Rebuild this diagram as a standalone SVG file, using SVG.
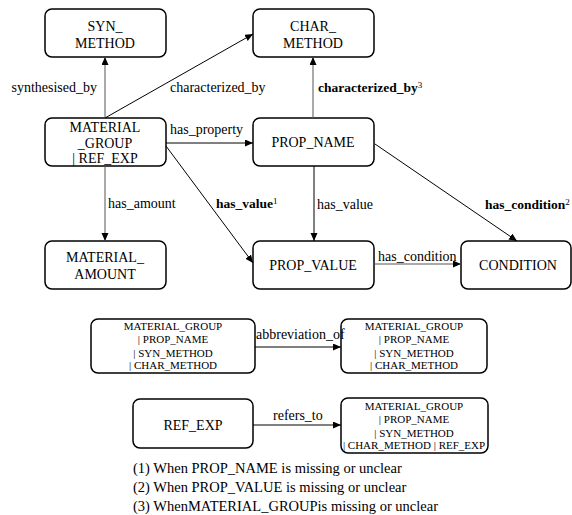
<svg xmlns="http://www.w3.org/2000/svg" width="572" height="515" viewBox="0 0 572 515" font-family="Liberation Serif, DejaVu Serif, serif">
<style>
.box{fill:#fff;stroke:#000;stroke-width:1.5}
text{font-family:'Liberation Serif','DejaVu Serif',serif;fill:#000}
.t{font-size:14px;text-anchor:middle}
.s{font-size:11px;text-anchor:middle}
.l{font-size:14px}
.b{font-weight:bold;font-size:13.5px}
.sup{font-size:9px;font-weight:normal}
.e{stroke:#000;stroke-width:1;fill:none;marker-end:url(#arr)}
.g{stroke:#555}
.fn{font-size:14.5px}
</style>
<defs>
<marker id="arr" markerWidth="9" markerHeight="8" refX="8" refY="3.5" orient="auto" markerUnits="userSpaceOnUse">
<path d="M0,0 L8,3.5 L0,7 z" fill="#000"/>
</marker>
</defs>
<rect width="572" height="515" fill="#fff"/>
<g id="syn_method">
<rect class="box" x="45" y="9" width="121" height="48" rx="7"/>
<text class="t" x="105" y="31">SYN_</text>
<text class="t" x="105" y="48">METHOD</text>
</g>
<g id="char_method">
<rect class="box" x="253" y="9" width="121" height="48" rx="7"/>
<text class="t" x="313" y="31">CHAR_</text>
<text class="t" x="313" y="48">METHOD</text>
</g>
<g id="material_group">
<rect class="box" x="45" y="118" width="121" height="48" rx="7"/>
<text class="t" x="105" y="132">MATERIAL</text>
<text class="t" x="105" y="148">_GROUP</text>
<text class="t" x="105" y="163">| REF_EXP</text>
</g>
<g id="prop_name">
<rect class="box" x="253" y="118" width="121" height="48" rx="7"/>
<text class="t" x="313" y="147">PROP_NAME</text>
</g>
<g id="material_amount">
<rect class="box" x="45" y="241" width="121" height="48" rx="7"/>
<text class="t" x="105" y="262">MATERIAL_</text>
<text class="t" x="105" y="279">AMOUNT</text>
</g>
<g id="prop_value">
<rect class="box" x="253" y="241" width="121" height="48" rx="7"/>
<text class="t" x="313" y="270">PROP_VALUE</text>
</g>
<g id="condition">
<rect class="box" x="461" y="241" width="110" height="48" rx="7"/>
<text class="t" x="518" y="270">CONDITION</text>
</g>
<g id="abbr_src">
<rect class="box" x="91" y="319" width="164" height="54" rx="7"/>
<text class="s" x="173" y="330">MATERIAL_GROUP</text>
<text class="s" x="173" y="343">| PROP_NAME</text>
<text class="s" x="173" y="357">| SYN_METHOD</text>
<text class="s" x="173" y="369">| CHAR_METHOD</text>
</g>
<g id="abbr_dst">
<rect class="box" x="341" y="319" width="146" height="54" rx="7"/>
<text class="s" x="414" y="330">MATERIAL_GROUP</text>
<text class="s" x="414" y="343">| PROP_NAME</text>
<text class="s" x="414" y="357">| SYN_METHOD</text>
<text class="s" x="414" y="369">| CHAR_METHOD</text>
</g>
<g id="ref_exp">
<rect class="box" x="133" y="399" width="120" height="49" rx="7"/>
<text class="t" x="193" y="430" font-size="15">REF_EXP</text>
</g>
<g id="ref_dst">
<rect class="box" x="341" y="398" width="147" height="55" rx="7"/>
<text class="s" x="414" y="410">MATERIAL_GROUP</text>
<text class="s" x="414" y="423">| PROP_NAME</text>
<text class="s" x="414" y="437">| SYN_METHOD</text>
<text class="s" x="414" y="449">| CHAR_METHOD | REF_EXP</text>
</g>
<g id="connectors">
<line class="e g" x1="105" y1="118" x2="105" y2="57"/>
<line class="e" x1="105" y1="118" x2="253" y2="34"/>
<line class="e" x1="166" y1="143" x2="253" y2="143"/>
<line class="e g" x1="105" y1="166" x2="105" y2="241"/>
<line class="e" x1="166" y1="146" x2="253" y2="263"/>
<line class="e g" x1="313" y1="118" x2="313" y2="57"/>
<line class="e" x1="314" y1="166" x2="314" y2="241"/>
<line class="e" x1="375" y1="144" x2="517" y2="241"/>
<line class="e g" x1="374" y1="264" x2="461" y2="264"/>
<line class="e" x1="255" y1="347" x2="341" y2="347"/>
<line class="e" x1="253" y1="425" x2="341" y2="425"/>
<text class="l" x="97" y="92" text-anchor="end">synthesised_by</text>
<text class="l" x="170" y="92">characterized_by</text>
<text class="l" x="170" y="134">has_property</text>
<text class="l b" x="318" y="92">characterized_by<tspan class="sup" dy="-4">3</tspan></text>
<text class="l" x="108" y="208">has_amount</text>
<text class="l b" x="216" y="208">has_value<tspan class="sup" dy="-4">1</tspan></text>
<text class="l" x="317" y="209">has_value</text>
<text class="l b" x="485" y="209">has_condition<tspan class="sup" dy="-4">2</tspan></text>
<text class="l" x="378" y="261">has_condition</text>
<text class="l" x="256" y="339" font-size="13">abbreviation_of</text>
<text class="l" x="273" y="420">refers_to</text>
</g>
<g id="footnotes">
<text class="fn" x="133" y="473">(1) When PROP_NAME is missing or unclear</text>
<text class="fn" x="133" y="492">(2) When PROP_VALUE is missing or unclear</text>
<text class="fn" x="133" y="511">(3) WhenMATERIAL_GROUPis missing or unclear</text>
</g>
</svg>
